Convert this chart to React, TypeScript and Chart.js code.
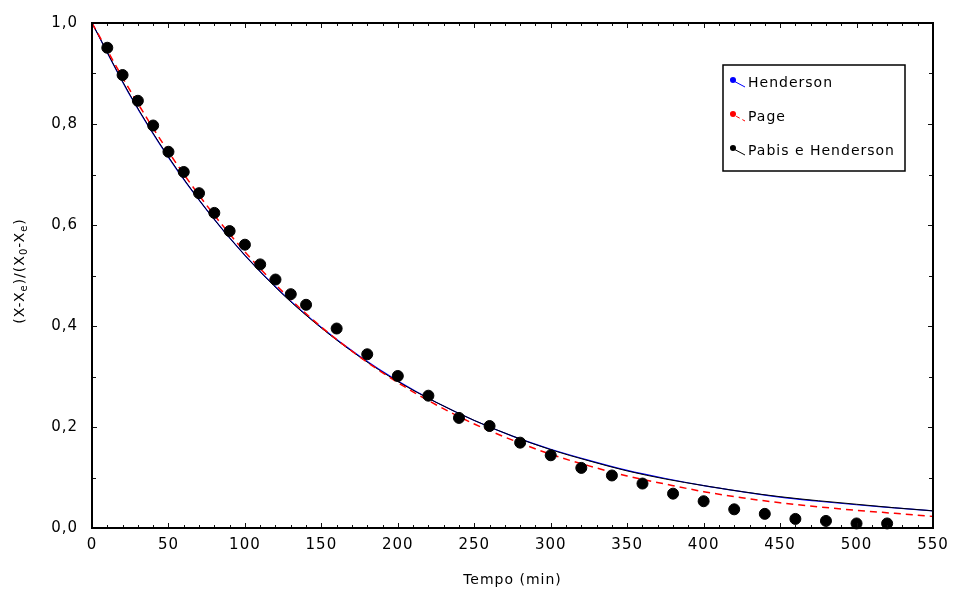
import React, { useEffect, useRef } from "react";
import { Chart, registerables } from "chart.js";

Chart.register(...registerables);

// ---- data ----
const curveTimes = [0, 25, 50, 75, 100, 125, 150, 175, 200, 225, 250, 275, 300, 325, 350, 375, 400, 425, 450, 475, 500, 525, 550];
const hendersonValues = [1.0, 0.856, 0.734, 0.63, 0.54, 0.463, 0.397, 0.34, 0.291, 0.249, 0.213, 0.182, 0.156, 0.134, 0.114, 0.098, 0.084, 0.072, 0.061, 0.053, 0.046, 0.04, 0.034];
const pageValues = [1.0, 0.866, 0.745, 0.639, 0.547, 0.467, 0.398, 0.339, 0.288, 0.244, 0.206, 0.174, 0.146, 0.123, 0.103, 0.087, 0.072, 0.06, 0.05, 0.042, 0.035, 0.029, 0.023];
const pabisValues = [1.0, 0.857, 0.735, 0.63, 0.54, 0.462, 0.396, 0.339, 0.29, 0.249, 0.213, 0.182, 0.155, 0.133, 0.113, 0.097, 0.084, 0.072, 0.062, 0.054, 0.047, 0.04, 0.034];

const expTimes = [10, 20, 30, 40, 50, 60, 70, 80, 90, 100, 110, 120, 130, 140, 160, 180, 200, 220, 240, 260, 280, 300, 320, 340, 360, 380, 400, 420, 440, 460, 480, 500, 520];
const expValues = [0.951, 0.897, 0.846, 0.797, 0.745, 0.705, 0.663, 0.624, 0.588, 0.561, 0.522, 0.492, 0.463, 0.442, 0.395, 0.344, 0.301, 0.262, 0.218, 0.202, 0.169, 0.144, 0.119, 0.104, 0.088, 0.068, 0.053, 0.037, 0.028, 0.018, 0.014, 0.009, 0.009];

const xTickValues = [0, 50, 100, 150, 200, 250, 300, 350, 400, 450, 500, 550];
const yTickValues = [0, 0.2, 0.4, 0.6, 0.8, 1.0];
const yTickLabels = ["0,0", "0,2", "0,4", "0,6", "0,8", "1,0"];
const legendLabels = ["Henderson", "Page", "Pabis e Henderson"];
const xTitle = "Tempo (min)";

const FONT = "'DejaVu Sans', sans-serif";

const toPoints = (xs: number[], ys: number[]) => xs.map((x, i) => ({ x, y: ys[i] }));

const decorPlugin = {
  id: "decor",
  beforeDraw(chart: any) {
    chart.ctx.letterSpacing = "1px";
  },
  afterDraw(chart: any) {
    const ctx = chart.ctx as CanvasRenderingContext2D;
    const { left, right, top, bottom } = chart.chartArea;
    const xs = chart.scales.x;
    const ys = chart.scales.y;
    ctx.save();
    ctx.letterSpacing = "1px";
    ctx.strokeStyle = "#111";
    ctx.lineWidth = 1;
    // tick marks (inward)
    ctx.beginPath();
    for (let v = 0; v <= 550; v += 10) {
      const px = Math.round(xs.getPixelForValue(v)) + 0.5;
      const len = v % 50 === 0 ? 5 : 3;
      ctx.moveTo(px, bottom);
      ctx.lineTo(px, bottom - len);
      ctx.moveTo(px, top);
      ctx.lineTo(px, top + len);
    }
    for (let i = 0; i <= 10; i++) {
      const v = i / 10;
      const py = Math.round(ys.getPixelForValue(v)) + 0.5;
      const len = i % 2 === 0 ? 5 : 4;
      ctx.moveTo(left, py);
      ctx.lineTo(left + len, py);
      ctx.moveTo(right, py);
      ctx.lineTo(right - len, py);
    }
    ctx.stroke();
    // frame
    ctx.lineWidth = 2;
    ctx.strokeStyle = "#000";
    ctx.strokeRect(left, top, right - left, bottom - top);

    // x title
    ctx.fillStyle = "#000";
    ctx.font = `14px ${FONT}`;
    ctx.textAlign = "center";
    ctx.textBaseline = "middle";
    ctx.fillText(xTitle, (left + right) / 2, 580);

    // y title with subscripts
    const parts: [string, boolean][] = [
      ["(X-X", false], ["e", true], [")/(X", false], ["0", true], ["-X", false], ["e", true], [")", false],
    ];
    const bigFont = `14px ${FONT}`;
    const smallFont = `10px ${FONT}`;
    ctx.letterSpacing = "1px";
    let total = 0;
    for (const [t, sub] of parts) {
      ctx.font = sub ? smallFont : bigFont;
      total += ctx.measureText(t).width;
    }
    ctx.translate(20, 271);
    ctx.rotate(-Math.PI / 2);
    ctx.textAlign = "left";
    ctx.textBaseline = "middle";
    let cx = -total / 2;
    for (const [t, sub] of parts) {
      ctx.font = sub ? smallFont : bigFont;
      ctx.fillText(t, cx, sub ? 4 : 0);
      cx += ctx.measureText(t).width;
    }
    ctx.restore();

    // legend
    ctx.save();
    ctx.letterSpacing = "1px";
    const bx = 723, by = 65, bw = 182, bh = 106;
    ctx.fillStyle = "#fff";
    ctx.fillRect(bx, by, bw, bh);
    ctx.strokeStyle = "#000";
    ctx.lineWidth = 1.5;
    ctx.strokeRect(bx, by, bw, bh);
    const colors = ["#0000ff", "#ff0000", "#000000"];
    const rows = [83, 117, 151];
    legendLabels.forEach((label, i) => {
      const ry = rows[i];
      ctx.strokeStyle = colors[i];
      ctx.lineWidth = 1;
      ctx.setLineDash(i === 1 ? [4, 3] : []);
      ctx.beginPath();
      ctx.moveTo(730, ry - 4);
      ctx.lineTo(745, ry + 4);
      ctx.stroke();
      ctx.setLineDash([]);
      ctx.fillStyle = colors[i];
      ctx.beginPath();
      ctx.arc(733, ry - 3, 3, 0, Math.PI * 2);
      ctx.fill();
      ctx.fillStyle = "#000";
      ctx.font = `14px ${FONT}`;
      ctx.textAlign = "left";
      ctx.textBaseline = "middle";
      ctx.fillText(label, 748, ry);
    });
    ctx.restore();
    chart.ctx.letterSpacing = "0px";
  },
};

export default function App() {
  const ref = useRef<HTMLCanvasElement | null>(null);
  useEffect(() => {
    if (!ref.current) return;
    const chart = new Chart(ref.current, {
      type: "scatter",
      data: {
        datasets: [
          {
            label: "Experimental",
            data: toPoints(expTimes, expValues),
            backgroundColor: "#000",
            borderColor: "#000",
            pointRadius: 5.5,
            pointHoverRadius: 5.5,
            showLine: false,
            order: 0,
            clip: false as any,
          },
          {
            label: legendLabels[1],
            data: toPoints(curveTimes, pageValues),
            borderColor: "#ff0000",
            borderWidth: 1.5,
            borderDash: [7, 5],
            pointRadius: 0,
            showLine: true,
            cubicInterpolationMode: "monotone",
            order: 1,
          },
          {
            label: legendLabels[2],
            data: toPoints(curveTimes, pabisValues),
            borderColor: "#000000",
            borderWidth: 1,
            pointRadius: 0,
            showLine: true,
            cubicInterpolationMode: "monotone",
            order: 2,
          },
          {
            label: legendLabels[0],
            data: toPoints(curveTimes, hendersonValues),
            borderColor: "#0000ff",
            borderWidth: 1.2,
            pointRadius: 0,
            showLine: true,
            cubicInterpolationMode: "monotone",
            order: 3,
          },
        ] as any,
      },
      options: {
        animation: false,
        responsive: false,
        layout: { padding: { top: 14, right: 23, bottom: 0, left: 0 } },
        plugins: { legend: { display: false }, tooltip: { enabled: false } },
        scales: {
          x: {
            type: "linear",
            min: 0,
            max: 550,
            afterBuildTicks: (s: any) => {
              s.ticks = xTickValues.map((v) => ({ value: v }));
            },
            afterFit: (s: any) => {
              s.height = 73;
            },
            grid: { display: false, drawTicks: false },
            border: { display: false },
            ticks: {
              color: "#000",
              font: { family: FONT, size: 15 },
              padding: 8,
              maxRotation: 0,
              autoSkip: false,
              callback: (v: any) => String(v),
            },
          },
          y: {
            type: "linear",
            min: 0,
            max: 1,
            afterBuildTicks: (s: any) => {
              s.ticks = yTickValues.map((v) => ({ value: v }));
            },
            afterFit: (s: any) => {
              s.width = 92;
            },
            grid: { display: false, drawTicks: false },
            border: { display: false },
            ticks: {
              color: "#000",
              font: { family: FONT, size: 15 },
              padding: 14,
              autoSkip: false,
              callback: (v: any) => {
                const i = yTickValues.findIndex((t) => Math.abs(t - v) < 1e-9);
                return i >= 0 ? yTickLabels[i] : "";
              },
            },
          },
        },
      } as any,
      plugins: [decorPlugin],
    });
    return () => chart.destroy();
  }, []);
  return (
    <div style={{ position: "absolute", left: 0, top: 0, width: 956, height: 601, background: "#fff" }}>
      <canvas ref={ref} width={956} height={601} style={{ width: 956, height: 601 }} />
    </div>
  );
}
